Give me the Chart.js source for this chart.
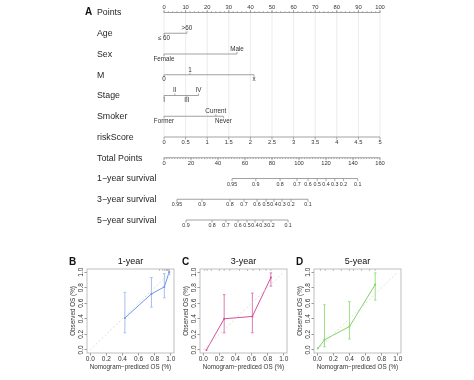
<!DOCTYPE html>
<html>
<head>
<meta charset="utf-8">
<script src="https://cdn.jsdelivr.net/npm/chart.js@4.4.1/dist/chart.umd.min.js"></script>
<style>
  html, body { margin: 0; padding: 0; background: #fff; }
  #wrap { position: relative; width: 474px; height: 380px; overflow: hidden; }
  canvas { position: absolute; }
</style>
</head>
<body>
<div id="wrap">
  <canvas id="nomo" width="474" height="238" style="left:0;top:0"></canvas>
  <canvas id="calB" width="125" height="125" style="left:59px;top:255px"></canvas>
  <canvas id="calC" width="125" height="125" style="left:172px;top:255px"></canvas>
  <canvas id="calD" width="125" height="125" style="left:286px;top:255px"></canvas>
</div>
<script>
/* ---------- nomogram data (in points, 0-100) ---------- */
const rowNames = ['Points', 'Age', 'Sex', 'M', 'Stage', 'Smoker', 'riskScore', 'Total Points',
                  '1\u2212year survival', '3\u2212year survival', '5\u2212year survival'];
const pointTicks = [0, 10, 20, 30, 40, 50, 60, 70, 80, 90, 100];
const ageLevels = ['\u2264 60', '>60'];
const agePoints = [0, 10.6];
const sexLevels = ['Female', 'Male'];
const sexPoints = [0, 33.8];
const mLevels = ['0', '1', 'x'];
const mPoints = [0, 12, 41.7];
const stageLevels = ['I', 'II', 'III', 'IV'];
const stagePoints = [0, 5, 10.6, 16];
const smokerLevels = ['Former', 'Current', 'Never'];
const smokerPoints = [0, 24, 27.5];
const riskTicks = ['0', '0.5', '1', '1.5', '2', '2.5', '3', '3.5', '4', '4.5', '5'];
const riskMax = 5;          // riskScore 5 = 100 points
const totalTicks = [0, 20, 40, 60, 80, 100, 120, 140, 160];
const totalMax = 160;       // total points 160 = 100 on the points scale
const surv1Labels = ['0.95', '0.9', '0.8', '0.7', '0.6', '0.5', '0.4', '0.3', '0.2', '0.1'];
const surv1Total = [50.4, 68, 86, 98.5, 106.7, 113.5, 120, 126.5, 133, 143.5];
const surv3Labels = ['0.95', '0.9', '0.8', '0.7', '0.6', '0.5', '0.4', '0.3', '0.2', '0.1'];
const surv3Total = [9.6, 28.1, 48.9, 59.3, 68.9, 75.6, 81.5, 87.4, 94.1, 106.7];
const surv5Labels = ['0.9', '0.8', '0.7', '0.6', '0.5', '0.4', '0.3', '0.2', '0.1'];
const surv5Total = [16.3, 35.6, 45.9, 54.8, 61.5, 67.4, 73.3, 79.3, 91.9];

/* ---------- calibration data ---------- */
const calLetters = ['B', 'C', 'D'];
const calTitles = ['1-year', '3-year', '5-year'];
const calTicks = [0, 0.2, 0.4, 0.6, 0.8, 1.0];
const cal1Pred = [0.43, 0.76, 0.92, 0.98];
const cal1Obs  = [0.41, 0.72, 0.81, 1.00];
const cal1Lo   = [0.22, 0.55, 0.67, 0.97];
const cal1Hi   = [0.74, 0.93, 0.98, 1.00];
const cal3Pred = [0.04, 0.26, 0.61, 0.84];
const cal3Obs  = [0.00, 0.40, 0.43, 0.93];
const cal3Lo   = [0.00, 0.22, 0.22, 0.82];
const cal3Hi   = [0.01, 0.71, 0.73, 0.99];
const cal5Pred = [0.01, 0.09, 0.40, 0.72];
const cal5Obs  = [0.02, 0.13, 0.30, 0.84];
const cal5Lo   = [0.02, 0.04, 0.14, 0.64];
const cal5Hi   = [0.02, 0.58, 0.62, 0.99];
const cal1Rug = [0.86, 0.9, 0.92, 0.94, 0.95, 0.96, 0.97, 0.98];
const cal3Rug = [0.02, 0.05, 0.1, 0.2, 0.26, 0.33, 0.45, 0.55, 0.62, 0.7, 0.78, 0.84];
const cal5Rug = [0.04, 0.1, 0.2, 0.3, 0.4, 0.45, 0.55, 0.65, 0.72];

const FONT = '"Liberation Sans", Arial, sans-serif';
Chart.defaults.font.family = FONT;
Chart.defaults.animation = false;

/* ---------- nomogram ---------- */
const toPts = t => t * 100 / totalMax;
const rowSpecs = [
  { pos: pointTicks, text: pointTicks.map(String), side: -1, minor: 'points', size: 5.8 },
  { pos: agePoints, text: ageLevels, alt: true },
  { pos: sexPoints, text: sexLevels, alt: true },
  { pos: mPoints, text: mLevels, alt: true },
  { pos: stagePoints, text: stageLevels, alt: true },
  { pos: smokerPoints, text: smokerLevels, alt: true },
  { pos: riskTicks.map(v => Number(v) * 100 / riskMax), text: riskTicks, side: 1, size: 5.8 },
  { pos: totalTicks.map(toPts), text: totalTicks.map(String), side: 1, minor: 'total', size: 5.8 },
  { pos: surv1Total.map(toPts), text: surv1Labels, side: 1, size: 5.3 },
  { pos: surv3Total.map(toPts), text: surv3Labels, side: 1, size: 5.3 },
  { pos: surv5Total.map(toPts), text: surv5Labels, side: 1, size: 5.3 }
];

const nomoPlugin = {
  id: 'nomo',
  beforeDatasetsDraw(chart) {
    const { ctx, scales: { x, y } } = chart;
    ctx.save();
    ctx.strokeStyle = '#e4e4e4';
    ctx.lineWidth = 0.7;
    pointTicks.forEach(v => {
      const px = x.getPixelForValue(v);
      ctx.beginPath();
      ctx.moveTo(px, y.getPixelForValue(0));
      ctx.lineTo(px, y.getPixelForValue(6));
      ctx.stroke();
    });
    ctx.restore();
  },
  afterDatasetsDraw(chart) {
    const { ctx, chartArea, scales: { x, y } } = chart;
    ctx.save();
    // panel letter
    ctx.fillStyle = '#111';
    ctx.font = 'bold 10px ' + FONT;
    ctx.textAlign = 'left';
    ctx.textBaseline = 'middle';
    ctx.fillText('A', chartArea.left - 79, y.getPixelForValue(0));
    // row names
    ctx.font = '8.8px ' + FONT;
    ctx.fillStyle = '#262626';
    rowNames.forEach((n, i) => ctx.fillText(n, chartArea.left - 67, y.getPixelForValue(i) + 0.5));

    ctx.strokeStyle = '#858585';
    ctx.lineWidth = 0.7;
    ctx.textAlign = 'center';
    rowSpecs.forEach((r, i) => {
      const py = y.getPixelForValue(i);
      // minor ticks
      if (r.minor) {
        const step = 2, lim = r.minor === 'points' ? 100 : totalMax;
        for (let v = 0; v <= lim; v += step) {
          const px = x.getPixelForValue(r.minor === 'points' ? v : toPts(v));
          ctx.beginPath();
          ctx.moveTo(px, py);
          ctx.lineTo(px, py + r.side * 1.3);
          ctx.stroke();
        }
      }
      ctx.font = (r.size || 6.3) + 'px ' + FONT;
      ctx.fillStyle = '#333';
      r.pos.forEach((v, j) => {
        const px = x.getPixelForValue(v);
        const side = r.alt ? (j % 2 === 0 ? 1 : -1) : r.side;
        const tl = r.alt ? 2 : 2.6;
        ctx.beginPath();
        ctx.moveTo(px, py);
        ctx.lineTo(px, py + side * tl);
        ctx.stroke();
        const off = r.alt ? 4.8 : 5.6;
        ctx.fillText(r.text[j], px, py + side * off);
      });
    });
    ctx.restore();
  }
};

const nomoSets = rowSpecs.map((r, i) => ({
  data: [{ x: Math.min(...r.pos), y: i }, { x: Math.max(...r.pos), y: i }],
  showLine: true,
  borderColor: '#8a8a8a',
  borderWidth: 0.8,
  pointRadius: 0,
  clip: false
}));

new Chart(document.getElementById('nomo'), {
  type: 'scatter',
  data: { datasets: nomoSets },
  options: {
    responsive: false,
    devicePixelRatio: 1,
    events: [],
    layout: { padding: { left: 164, right: 94, top: 12.5, bottom: 18 } },
    plugins: { legend: { display: false }, tooltip: { enabled: false } },
    scales: {
      x: { type: 'linear', min: 0, max: 100, display: false },
      y: { type: 'linear', min: 0, max: 10, reverse: true, display: false }
    }
  },
  plugins: [nomoPlugin]
});

/* ---------- calibration panels ---------- */
const calPlugin = {
  id: 'cal',
  beforeDatasetsDraw(chart, args, opts) {
    const { ctx, chartArea: a, scales: { x, y } } = chart;
    ctx.save();
    // rug of predicted values along the top
    ctx.strokeStyle = '#9a9a9a';
    ctx.lineWidth = 0.6;
    opts.rug.forEach(v => {
      const px = x.getPixelForValue(v);
      ctx.beginPath();
      ctx.moveTo(px, a.top);
      ctx.lineTo(px, a.top + 2);
      ctx.stroke();
    });
    // error bars
    ctx.strokeStyle = opts.barColor;
    ctx.lineWidth = 1;
    opts.pred.forEach((p, i) => {
      const px = x.getPixelForValue(p);
      const y1 = y.getPixelForValue(opts.lo[i]), y2 = y.getPixelForValue(opts.hi[i]);
      if (Math.abs(y1 - y2) < 1) return;
      ctx.beginPath();
      ctx.moveTo(px, y1); ctx.lineTo(px, y2);
      ctx.moveTo(px - 1.3, y1); ctx.lineTo(px + 1.3, y1);
      ctx.moveTo(px - 1.3, y2); ctx.lineTo(px + 1.3, y2);
      ctx.stroke();
    });
    ctx.restore();
  },
  afterDatasetsDraw(chart, args, opts) {
    const { ctx, chartArea: a, scales: { y } } = chart;
    ctx.save();
    ctx.strokeStyle = '#b0b0b0';
    ctx.lineWidth = 0.8;
    ctx.strokeRect(a.left, a.top, a.right - a.left, a.bottom - a.top);
    ctx.fillStyle = '#333';
    ctx.textAlign = 'center';
    ctx.textBaseline = 'middle';
    ctx.font = '6.5px ' + FONT;
    calTicks.forEach(v => {
      ctx.save();
      ctx.translate(a.left - 5.5, y.getPixelForValue(v));
      ctx.rotate(-Math.PI / 2);
      ctx.fillText(v.toFixed(1), 0, 0);
      ctx.restore();
    });
    ctx.font = '6.3px ' + FONT;
    ctx.save();
    ctx.translate(a.left - 13.5, (a.top + a.bottom) / 2);
    ctx.rotate(-Math.PI / 2);
    ctx.fillText('Observed OS (%)', 0, 0);
    ctx.restore();
    ctx.fillStyle = '#111';
    ctx.font = '9px ' + FONT;
    ctx.fillText(opts.title, (a.left + a.right) / 2, a.top - 7);
    ctx.font = 'bold 10px ' + FONT;
    ctx.fillText(opts.letter, a.left - 14.5, a.top - 7);
    ctx.restore();
  }
};

function calChart(id, k, pred, obs, lo, hi, rug, color, barColor) {
  new Chart(document.getElementById(id), {
    type: 'scatter',
    data: {
      datasets: [
        { data: [{ x: 0, y: 0 }, { x: 1, y: 1 }], showLine: true, borderColor: '#d6d6d0',
          borderWidth: 0.8, borderDash: [2, 2], pointRadius: 0 },
        { data: pred.map((p, i) => ({ x: p, y: obs[i] })), showLine: true, borderColor: color,
          borderWidth: 1, pointRadius: 1, pointBackgroundColor: color, pointBorderWidth: 0, clip: false }
      ]
    },
    options: {
      responsive: false,
      devicePixelRatio: 1,
      events: [],
      layout: { padding: { left: 0, right: 10, top: 14, bottom: 0 } },
      plugins: {
        legend: { display: false },
        tooltip: { enabled: false },
        cal: { pred, lo, hi, rug, barColor, title: calTitles[k], letter: calLetters[k] }
      },
      scales: {
        x: {
          type: 'linear', min: -0.04, max: 1.04,
          afterBuildTicks: s => { s.ticks = calTicks.map(v => ({ value: v })); },
          afterFit: s => { s.height = 27; },
          grid: { drawOnChartArea: false, drawTicks: true, tickLength: 2.5, color: '#999' },
          border: { display: false },
          ticks: { padding: 0, color: '#333', maxRotation: 0, font: { size: 6.5, lineHeight: 1.1 },
                   callback: v => v.toFixed(1) },
          title: { display: true, text: 'Nomogram\u2212prediced OS (%)', color: '#333',
                   font: { size: 6.3, lineHeight: 1.2 }, padding: { top: 0, bottom: 9 } }
        },
        y: {
          type: 'linear', min: -0.04, max: 1.04,
          afterBuildTicks: s => { s.ticks = calTicks.map(v => ({ value: v })); },
          afterFit: s => { s.width = 28; },
          grid: { drawOnChartArea: false, drawTicks: true, tickLength: 2.5, color: '#999' },
          border: { display: false },
          ticks: { display: false }
        }
      }
    },
    plugins: [calPlugin]
  });
}

calChart('calB', 0, cal1Pred, cal1Obs, cal1Lo, cal1Hi, cal1Rug, '#7196e4', '#a5bff2');
calChart('calC', 1, cal3Pred, cal3Obs, cal3Lo, cal3Hi, cal3Rug, '#d24f99', '#de7cb3');
calChart('calD', 2, cal5Pred, cal5Obs, cal5Lo, cal5Hi, cal5Rug, '#82d266', '#9fdf87');
</script>
</body>
</html>
